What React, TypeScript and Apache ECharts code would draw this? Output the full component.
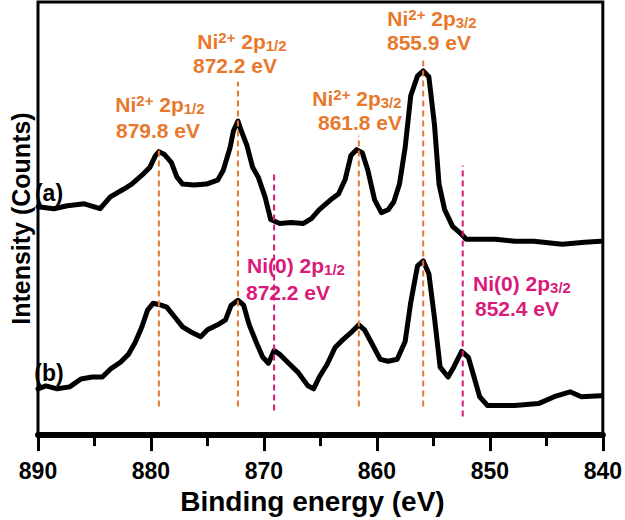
import React, { useEffect, useRef } from "react";
import * as echarts from "echarts";

// Spectrum (a): [binding energy (eV), intensity (arb. counts)]
const spectrumA: [number, number][] = [
  [890.0, 232], [888.6, 230], [887.4, 233], [885.9, 235], [884.5, 230], [883.6, 242],
  [882.4, 250], [881.7, 255], [880.8, 264], [880.1, 272], [879.6, 284], [879.3, 288],
  [878.8, 285], [878.2, 277], [877.7, 262], [877.2, 255], [876.2, 254], [875.1, 255],
  [874.1, 259], [873.6, 269], [873.0, 292], [872.7, 309], [872.3, 319], [872.0, 309],
  [871.5, 294], [871.0, 272], [870.5, 262], [869.9, 242], [869.4, 219], [868.6, 215],
  [867.6, 216], [866.5, 215], [865.8, 220], [865.1, 229], [864.1, 239], [863.4, 245],
  [862.8, 260], [862.3, 284], [861.8, 290], [861.3, 287], [860.8, 269], [860.2, 239],
  [859.6, 226], [859.0, 229], [858.5, 237], [858.0, 255], [857.5, 292], [857.0, 345],
  [856.4, 365], [855.9, 370], [855.4, 364], [854.9, 315], [854.5, 255], [854.0, 229],
  [853.3, 212], [852.5, 204], [852.1, 199], [849.5, 199], [847.8, 197], [846.1, 197],
  [843.6, 194], [841.6, 196], [840.2, 197],
];

// Spectrum (b)
const spectrumB: [number, number][] = [
  [890.0, 47], [889.3, 50], [888.3, 47], [887.2, 49], [886.2, 57], [885.2, 59],
  [884.3, 59], [883.6, 67], [882.7, 74], [882.0, 82], [881.4, 94], [880.8, 110],
  [880.3, 127], [879.8, 134], [879.1, 132], [878.6, 130], [877.9, 120], [877.2, 110],
  [876.5, 105], [875.6, 100], [875.0, 107], [874.1, 112], [873.4, 117], [872.9, 132],
  [872.3, 137], [871.8, 132], [871.3, 112], [870.6, 92], [870.1, 79], [869.6, 73],
  [869.1, 86], [868.6, 82], [867.9, 74], [867.0, 64], [866.1, 50], [865.6, 47],
  [865.1, 59], [864.4, 72], [863.7, 89], [863.0, 97], [862.3, 104], [861.6, 112],
  [861.1, 107], [860.4, 92], [859.7, 77], [859.0, 75], [858.2, 77], [857.5, 95],
  [857.0, 135], [856.4, 172], [855.9, 177], [855.4, 164], [854.9, 119], [854.4, 69],
  [853.7, 59], [853.2, 69], [852.5, 85], [851.9, 79], [851.4, 59], [850.9, 39],
  [850.2, 30], [847.8, 30], [845.7, 32], [844.3, 39], [842.9, 44], [841.9, 39],
  [840.2, 40],
];

// Reference peak markers (dashed lines): position (eV), top and bottom (intensity units)
const ni2Positions = [879.3, 872.3, 861.6, 855.9];
const ni2Tops = [292, 359, 304, 382];
const ni2Bottoms = [29, 29, 29, 29];
const ni0Positions = [869.1, 852.4];
const ni0Tops = [265, 274];
const ni0Bottoms = [25, 19];

// Peak annotation texts
const ni2Orbitals = ["1/2", "1/2", "3/2", "3/2"];
const ni2Energies = ["879.8 eV", "872.2 eV", "861.8 eV", "855.9 eV"];
const ni0Orbitals = ["1/2", "3/2"];
const ni0Energies = ["872.2 eV", "852.4 eV"];

const xTitle = "Binding energy (eV)";
const yTitle = "Intensity (Counts)";
const curveNames = ["(a)", "(b)"];

const ORANGE = "#e8782c";
const MAGENTA = "#d81b7b";
const FONT = "'Liberation Sans', Arial, Helvetica, sans-serif";

// pixel positions of annotation lines: [x1, y1, x2, y2]
const ni2LabelPos = [
  [160, 104, 158, 130],
  [242, 41, 235, 65],
  [357, 98, 360, 122],
  [432, 18, 429, 42],
];
const ni0LabelPos = [
  [296, 265, 288, 292],
  [522, 283, 517, 308],
];

const richStyles = (color: string) => ({
  m: { fill: color, fontSize: 21, fontWeight: "bold", fontFamily: FONT, lineHeight: 23 },
  sup: { fill: color, fontSize: 15, fontWeight: "bold", fontFamily: FONT, lineHeight: 15, verticalAlign: "top" },
  sub: { fill: color, fontSize: 15, fontWeight: "bold", fontFamily: FONT, lineHeight: 15, verticalAlign: "bottom" },
});

function labelElements(
  prefix: string,
  sup: string | null,
  orbitals: string[],
  energies: string[],
  pos: number[][],
  color: string
) {
  const els: any[] = [];
  orbitals.forEach((orb, i) => {
    const [x1, y1, x2, y2] = pos[i];
    const head = sup ? `{m|${prefix}}{sup|${sup}}{m| 2p}{sub|${orb}}` : `{m|${prefix} 2p}{sub|${orb}}`;
    els.push({
      type: "text",
      x: x1,
      y: y1,
      z: 10,
      style: {
        text: head,
        rich: richStyles(color),
        align: "center",
        verticalAlign: "middle",
      },
    });
    els.push({
      type: "text",
      x: x2,
      y: y2,
      z: 10,
      style: {
        text: energies[i],
        fill: color,
        fontSize: 21,
        fontWeight: "bold",
        fontFamily: FONT,
        align: "center",
        verticalAlign: "middle",
      },
    });
  });
  return els;
}

export default function App() {
  const ref = useRef<HTMLDivElement>(null);

  useEffect(() => {
    if (!ref.current) return;
    const chart = echarts.init(ref.current, undefined, { renderer: "svg" });

    const dashSeries: any[] = [];
    ni2Positions.forEach((p, i) => {
      dashSeries.push({
        type: "line",
        data: [
          [p, ni2Bottoms[i]],
          [p, ni2Tops[i]],
        ],
        symbol: "none",
        silent: true,
        z: 5,
        lineStyle: { color: ORANGE, width: 2, type: [6, 4] },
      });
    });
    ni0Positions.forEach((p, i) => {
      dashSeries.push({
        type: "line",
        data: [
          [p, ni0Bottoms[i]],
          [p, ni0Tops[i]],
        ],
        symbol: "none",
        silent: true,
        z: 5,
        lineStyle: { color: MAGENTA, width: 2, type: [6, 4] },
      });
    });

    const graphics: any[] = [
      ...labelElements("Ni", "2+", ni2Orbitals, ni2Energies, ni2LabelPos, ORANGE),
      ...labelElements("Ni(0)", null, ni0Orbitals, ni0Energies, ni0LabelPos, MAGENTA),
      {
        type: "text",
        x: 49,
        y: 193,
        style: { text: curveNames[0], fill: "#000", fontSize: 23, fontWeight: "bold", fontFamily: FONT, align: "center", verticalAlign: "middle" },
      },
      {
        type: "text",
        x: 49,
        y: 373,
        style: { text: curveNames[1], fill: "#000", fontSize: 23, fontWeight: "bold", fontFamily: FONT, align: "center", verticalAlign: "middle" },
      },
    ];

    chart.setOption({
      animation: false,
      backgroundColor: "#fff",
      grid: {
        left: 32,
        right: 19,
        top: 2,
        bottom: 78,
        show: true,
        borderColor: "#000",
        borderWidth: 3,
        containLabel: false,
      },
      xAxis: {
        type: "value",
        min: 840,
        max: 890,
        interval: 10,
        inverse: true,
        axisLine: { show: true, onZero: false, lineStyle: { color: "#000", width: 6 } },
        axisTick: { show: true, length: 16, lineStyle: { color: "#000", width: 3 } },
        minorTick: { show: true, splitNumber: 2, length: 11, lineStyle: { color: "#000", width: 3 } },
        axisLabel: { fontSize: 23, fontWeight: "bold", color: "#000", margin: 24, fontFamily: FONT },
        splitLine: { show: false },
        minorSplitLine: { show: false },
        name: xTitle,
        nameLocation: "middle",
        nameGap: 51,
        nameTextStyle: { fontSize: 28, fontWeight: "bold", color: "#000", fontFamily: FONT, padding: [0, 16, 0, 0] },
      },
      yAxis: {
        type: "value",
        min: 0,
        max: 440,
        axisLine: { show: false },
        axisTick: { show: false },
        axisLabel: { show: false },
        splitLine: { show: false },
        name: yTitle,
        nameLocation: "middle",
        nameGap: 5,
        nameTextStyle: { fontSize: 25, fontWeight: "bold", color: "#000", fontFamily: FONT },
      },
      series: [
        {
          type: "line",
          data: spectrumA,
          symbol: "none",
          z: 3,
          lineStyle: { color: "#000", width: 5, join: "round", cap: "round" },
        },
        {
          type: "line",
          data: spectrumB,
          symbol: "none",
          z: 3,
          lineStyle: { color: "#000", width: 5, join: "round", cap: "round" },
        },
        ...dashSeries,
      ],
      graphic: graphics,
    });

    return () => chart.dispose();
  }, []);

  return (
    <div
      ref={ref}
      style={{ width: 625, height: 520, position: "absolute", left: 0, top: 0 }}
    />
  );
}
